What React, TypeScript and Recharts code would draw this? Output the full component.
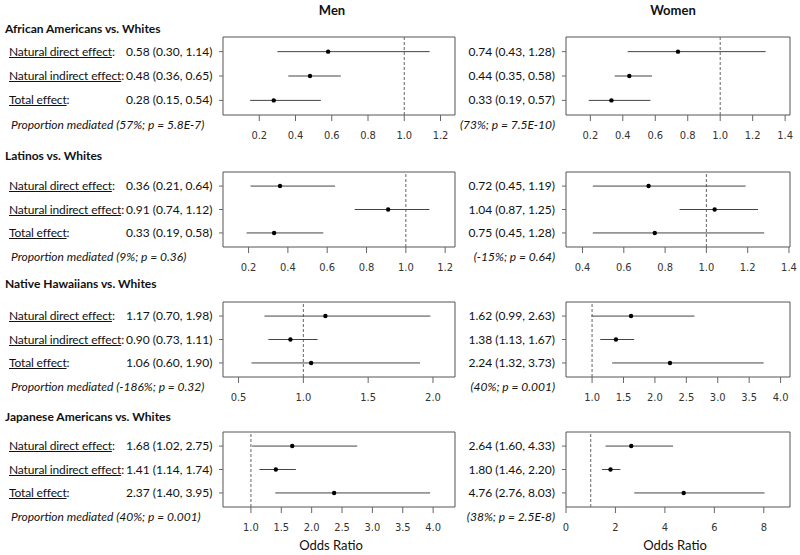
import React from 'react';
import { ScatterChart, Scatter, XAxis, YAxis, ErrorBar, ReferenceLine, ReferenceArea } from 'recharts';

const groups = [
  "African Americans vs. Whites",
  "Latinos vs. Whites",
  "Native Hawaiians vs. Whites",
  "Japanese Americans vs. Whites",
];
const effects = ["Natural direct effect", "Natural indirect effect", "Total effect"];

// odds ratios and 95% CI per group, rows: direct, indirect, total
const menOR = [[0.58, 0.48, 0.28], [0.36, 0.91, 0.33], [1.17, 0.90, 1.06], [1.68, 1.41, 2.37]];
const menLo = [[0.30, 0.36, 0.15], [0.21, 0.74, 0.19], [0.70, 0.73, 0.60], [1.02, 1.14, 1.40]];
const menHi = [[1.14, 0.65, 0.54], [0.64, 1.12, 0.58], [1.98, 1.11, 1.90], [2.75, 1.74, 3.95]];
const womenOR = [[0.74, 0.44, 0.33], [0.72, 1.04, 0.75], [1.62, 1.38, 2.24], [2.64, 1.80, 4.76]];
const womenLo = [[0.43, 0.35, 0.19], [0.45, 0.87, 0.45], [0.99, 1.13, 1.32], [1.60, 1.46, 2.76]];
const womenHi = [[1.28, 0.58, 0.57], [1.19, 1.25, 1.28], [2.63, 1.67, 3.73], [4.33, 2.20, 8.03]];

const menProp = ["57%; p = 5.8E-7", "9%; p = 0.36", "-186%; p = 0.32", "40%; p = 0.001"];
const womenProp = ["73%; p = 7.5E-10", "-15%; p = 0.64", "40%; p = 0.001", "38%; p = 2.5E-8"];

const menTicks = [
  [0.2, 0.4, 0.6, 0.8, 1.0, 1.2],
  [0.2, 0.4, 0.6, 0.8, 1.0, 1.2],
  [0.5, 1.0, 1.5, 2.0],
  [1.0, 1.5, 2.0, 2.5, 3.0, 3.5, 4.0],
];
const womenTicks = [
  [0.2, 0.4, 0.6, 0.8, 1.0, 1.2, 1.4],
  [0.4, 0.6, 0.8, 1.0, 1.2, 1.4],
  [1.0, 1.5, 2.0, 2.5, 3.0, 3.5, 4.0],
  [0, 2, 4, 6, 8],
];
const menDomain = [[0, 1.28], [0.07, 1.25], [0.38, 2.17], [0.54, 4.36]];
const womenDomain = [[0.05, 1.43], [0.32, 1.405], [0.585, 4.15], [0, 9.06]];
const womenDecimals = [1, 1, 1, 0];

// layout
const panelTop = [37, 172, 302, 432];
const panelH = [78, 75, 75, 75];
const titleY = [29, 155.5, 283.5, 416.5];
const MEN_L = 223, MEN_W = 232;
const WOMEN_L = 566, WOMEN_W = 224;
const Y_DOMAIN = [0.4, 3.6];

const FONT = "Lato, 'Open Sans', sans-serif";
const TICK_FONT = "'Liberation Sans Narrow', 'DejaVu Sans Condensed', 'Liberation Sans', sans-serif";

const fmt = (v: number, l: number, h: number) => `${v.toFixed(2)} (${l.toFixed(2)}, ${h.toFixed(2)})`;

const rowY = (gi: number, i: number) =>
  panelTop[gi] + (Y_DOMAIN[1] - (3 - i)) * panelH[gi] / (Y_DOMAIN[1] - Y_DOMAIN[0]);

function Label({ x, y, children, align = 'left', style }: any) {
  const h = 16;
  const pos =
    align === 'right' ? { right: 800 - x }
    : align === 'center' ? { left: x - 150, width: 300, textAlign: 'center' as const }
    : { left: x };
  return (
    <div style={{
      position: 'absolute', top: y - h / 2, height: h, lineHeight: `${h}px`,
      whiteSpace: 'nowrap', fontFamily: FONT, fontSize: 12, color: '#111', ...pos, ...style,
    }}>
      {children}
    </div>
  );
}

function Forest({ or, lo, hi, domain, ticks, left, width, top, height, decimals }: any) {
  const data = or.map((v: number, i: number) => ({ x: v, y: 3 - i, err: [v - lo[i], hi[i] - v] }));
  return (
    <div style={{ position: 'absolute', left: left - 10, top: top - 4 }}>
      <ScatterChart width={width + 20} height={height + 34} margin={{ top: 4, right: 10, bottom: 4, left: 4 }}>
        <XAxis
          type="number"
          dataKey="x"
          domain={domain}
          ticks={ticks}
          allowDataOverflow
          interval={0}
          axisLine={false}
          tickLine={{ stroke: '#666' }}
          tickSize={6}
          tickMargin={10}
          height={26}
          tick={{ fontSize: 11, fill: '#333', fontFamily: TICK_FONT, style: { fontStretch: 'condensed' } }}
          tickFormatter={(v: number) => v.toFixed(decimals)}
        />
        <YAxis
          type="number"
          dataKey="y"
          domain={Y_DOMAIN}
          ticks={[1, 2, 3]}
          allowDataOverflow
          width={6}
          axisLine={false}
          tickLine={{ stroke: '#666' }}
          tickSize={4}
          tickFormatter={() => ''}
        />
        <ReferenceArea x1={domain[0]} x2={domain[1]} y1={Y_DOMAIN[0]} y2={Y_DOMAIN[1]}
          fill="none" stroke="#555" ifOverflow="visible" />
        <ReferenceLine x={1} stroke="#666" strokeDasharray="3 2" />
        <Scatter
          data={data}
          isAnimationActive={false}
          shape={(p: any) => <circle cx={p.cx} cy={p.cy} r={2.2} fill="#000" />}
        >
          <ErrorBar dataKey="err" direction="x" width={0} stroke="#444" strokeWidth={1} isAnimationActive={false} />
        </Scatter>
      </ScatterChart>
    </div>
  );
}

export default function App() {
  return (
    <div style={{ position: 'absolute', left: 0, top: 0, width: 800, height: 555, background: '#fff', overflow: 'hidden' }}>
      <Label x={332} y={10} align="center" style={{ fontWeight: 700, fontSize: 13 }}>Men</Label>
      <Label x={673} y={10} align="center" style={{ fontWeight: 700, fontSize: 13 }}>Women</Label>

      {groups.map((g, gi) => {
        const bottom = panelTop[gi] + panelH[gi];
        return (
          <React.Fragment key={g}>
            <Label x={5} y={titleY[gi]} style={{ fontWeight: 700 }}>{g}</Label>
            {effects.map((e, i) => (
              <React.Fragment key={e}>
                <Label x={9} y={rowY(gi, i)} style={{ letterSpacing: -0.15 }}>
                  <span style={{ textDecoration: 'underline' }}>{e}</span>:
                </Label>
                <Label x={212.5} y={rowY(gi, i)} align="right">
                  {fmt(menOR[gi][i], menLo[gi][i], menHi[gi][i])}
                </Label>
                <Label x={555} y={rowY(gi, i)} align="right">
                  {fmt(womenOR[gi][i], womenLo[gi][i], womenHi[gi][i])}
                </Label>
              </React.Fragment>
            ))}
            <Label x={11} y={bottom + 10} style={{ fontStyle: 'italic' }}>
              Proportion mediated ({menProp[gi]})
            </Label>
            <Label x={555} y={bottom + 10} align="right" style={{ fontStyle: 'italic' }}>
              ({womenProp[gi]})
            </Label>
            <Forest
              or={menOR[gi]} lo={menLo[gi]} hi={menHi[gi]}
              domain={menDomain[gi]} ticks={menTicks[gi]} decimals={1}
              left={MEN_L} width={MEN_W} top={panelTop[gi]} height={panelH[gi]}
            />
            <Forest
              or={womenOR[gi]} lo={womenLo[gi]} hi={womenHi[gi]}
              domain={womenDomain[gi]} ticks={womenTicks[gi]} decimals={womenDecimals[gi]}
              left={WOMEN_L} width={WOMEN_W} top={panelTop[gi]} height={panelH[gi]}
            />
          </React.Fragment>
        );
      })}

      <Label x={331} y={545} align="center" style={{ fontSize: 13 }}>Odds Ratio</Label>
      <Label x={675} y={545} align="center" style={{ fontSize: 13 }}>Odds Ratio</Label>
    </div>
  );
}
